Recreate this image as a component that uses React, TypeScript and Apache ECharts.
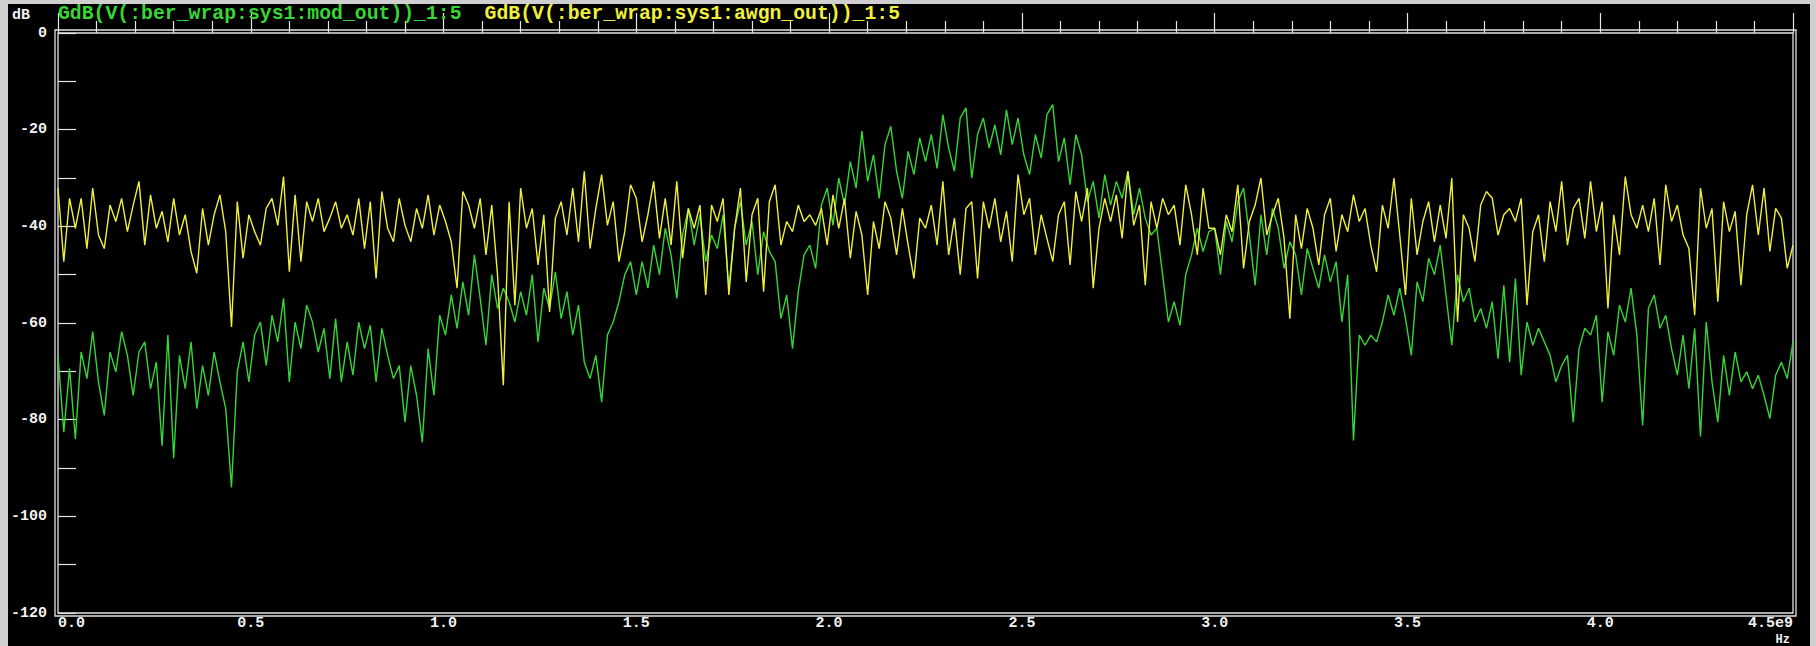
import React, { useEffect, useRef } from "react";
import * as echarts from "echarts";

// Frequency grid step (Hz) of the sampled spectrum
const STEP_HZ = 0.015e9;

const MOD_NAME = "GdB(V(:ber_wrap:sys1:mod_out))_1:5";
const AWGN_NAME = "GdB(V(:ber_wrap:sys1:awgn_out))_1:5";

// mod_out spectrum (dB), one value per STEP_HZ from 0 to 4.5 GHz
const modOut = [
  -66.7, -82.6, -69.4, -84, -66, -71.5, -61.8, -72.2, -79.1, -66,
  -70.1, -61.8, -66.7, -75, -66, -63.9, -73.6, -68.1, -85.4, -62.5,
  -88, -66.7, -73.6, -63.9, -77.7, -68.8, -75, -66, -72.2, -77.7,
  -94, -70.1, -63.9, -72.2, -62.5, -59.8, -68.8, -58.4, -63.9, -54.9,
  -72.2, -59.8, -65.3, -56.3, -59.8, -66, -61.1, -71.5, -59.1, -72.2,
  -63.9, -70.8, -59.8, -65.3, -60.5, -72.2, -61.1, -66.7, -71.5, -68.8,
  -80.5, -68.8, -75, -84.7, -65.3, -75, -58.4, -62.5, -54.2, -61.1,
  -51.5, -58.4, -45.9, -54.9, -64.6, -50, -57, -52.8, -55.6, -59.8,
  -53.5, -58.4, -50, -63.9, -52.8, -57, -49.4, -59.1, -53.5, -62.5,
  -56.3, -68.1, -71.5, -66.7, -76.4, -62.5, -59.8, -55.6, -50, -47.3,
  -54.2, -47.3, -52.8, -43.9, -50, -40.4, -45.9, -54.9, -41.8, -36.3,
  -43.9, -37.6, -47.3, -41.8, -44.6, -37.6, -52.8, -40.4, -34.9, -43.9,
  -39, -50, -41.1, -45.2, -47.3, -59.1, -54.2, -65.3, -53.5, -45.9,
  -43.9, -48.7, -35.6, -32.1, -39.8, -30, -35.6, -26.6, -32.1, -20.3,
  -30.7, -25.2, -34.2, -23.1, -19.3, -28.6, -34.2, -24.5, -29.3, -21.7,
  -26.6, -21, -28, -16.9, -23.8, -28.6, -17.6, -15.5, -30, -21,
  -17.6, -23.8, -19, -25.2, -15.9, -23.1, -17.6, -25.2, -29.3, -21,
  -25.9, -16.9, -14.8, -26.6, -21.7, -31.4, -21, -25.2, -34.9, -30.7,
  -38.3, -29.3, -35.6, -30.7, -34.2, -28.6, -37.6, -32.1, -38.3, -41.8,
  -40.4, -50, -59.8, -55.6, -60.5, -50, -45.9, -40.4, -45.2, -41.1,
  -40.4, -50, -39, -43.2, -34.9, -32.1, -41.8, -52.2, -37.6, -45.9,
  -36.3, -40.4, -48.7, -43.2, -45.9, -54.2, -44.6, -48.7, -52.8, -45.9,
  -51.5, -47.3, -59.8, -50, -84.3, -62.5, -64.6, -62.5, -63.9, -59.8,
  -54.2, -58.4, -52.8, -59.1, -66.7, -51.5, -55.6, -46.6, -50, -43.9,
  -54.2, -64.6, -50, -55.6, -52.8, -59.8, -57, -61.1, -55.6, -67.4,
  -52.2, -68.1, -50.8, -70.8, -59.8, -64.6, -61.1, -63.9, -66.7, -72.2,
  -68.8, -66.7, -80.5, -65.3, -61.1, -62.5, -58.4, -76.4, -61.8, -66.7,
  -56.3, -59.8, -52.8, -62.5, -81.2, -57, -54.2, -61.1, -58.4, -65.3,
  -70.8, -62.5, -73.6, -61.1, -83.5, -59.8, -72.2, -80.5, -66.7, -75,
  -66, -72.2, -70.1, -73.6, -70.8, -75, -79.8, -70.8, -68.1, -71.5,
  -63.9,
];

// awgn_out spectrum (dB), same grid
const awgnOut = [
  -32.1, -47.3, -34.2, -40.4, -34.2, -44.6, -32.1, -41.8, -44.6, -35.6,
  -39, -34.2, -41.1, -35.6, -30.7, -43.9, -33.5, -40.4, -36.9, -43.2,
  -34.2, -41.8, -37.6, -45.2, -49.7, -36.3, -43.9, -37.6, -33.5, -41.1,
  -60.8, -34.9, -46.6, -37.6, -41.1, -43.9, -36.3, -34.2, -39.8, -29.7,
  -49.4, -33.5, -47.3, -34.9, -39, -34.2, -41.1, -38.3, -34.9, -40.4,
  -37.6, -41.8, -34.2, -44.6, -34.9, -50.8, -32.8, -40.4, -43.2, -34.2,
  -39.8, -43.2, -36.3, -40.4, -33.5, -41.8, -35.6, -39, -43.2, -52.8,
  -32.8, -35.6, -40.4, -34.2, -45.9, -35.6, -50.1, -72.9, -34.9, -56.3,
  -32.1, -40.4, -36.3, -48, -37.6, -57.7, -38.3, -34.9, -41.8, -32.1,
  -43.2, -28.6, -44.6, -36.3, -29.3, -39.8, -34.9, -47.3, -41.1, -31.4,
  -34.2, -43.2, -37.6, -30.7, -42.5, -34.2, -43.9, -30.7, -46.6, -36.3,
  -40.4, -35.6, -54.2, -35.6, -39, -34.2, -54.2, -40.4, -32.1, -51.5,
  -37.6, -34.2, -53.5, -34.9, -31.4, -43.9, -39, -41.1, -35.6, -39,
  -37.6, -39.8, -36.3, -43.9, -33.5, -40.4, -34.2, -46.6, -36.9, -41.8,
  -54.2, -39, -44.6, -34.9, -38.3, -45.9, -36.3, -43.9, -50.8, -38.3,
  -40.4, -35.6, -43.9, -30.7, -45.9, -38.3, -50, -36.3, -34.9, -50.8,
  -34.9, -40.4, -34.2, -43.2, -36.9, -47.3, -29.3, -37.6, -34.2, -45.9,
  -37.6, -42.5, -47.3, -37.6, -34.9, -48, -32.8, -39, -32.1, -52.8,
  -40.4, -34.2, -39, -33.5, -42.5, -28.6, -39.8, -35.6, -52.2, -34.9,
  -40.4, -34.2, -37.6, -35.6, -43.9, -31.4, -37.6, -45.9, -32.1, -40.4,
  -40.4, -45.9, -37.6, -41.1, -31.4, -48.7, -39, -35.6, -30, -41.8,
  -37.6, -34.2, -42.5, -59.1, -37.6, -44.6, -36.3, -40.4, -48, -37.6,
  -34.2, -45.2, -37.6, -41.1, -33.5, -39, -36.3, -43.9, -49.4, -35.6,
  -40.4, -30, -41.8, -54.2, -34.2, -45.9, -39, -34.9, -43.2, -35.6,
  -42.5, -30, -59.8, -37.6, -40.4, -47.3, -35.6, -32.8, -34.2, -41.8,
  -37.6, -36.3, -39, -34.2, -56.3, -41.1, -37.6, -47.3, -34.9, -41.1,
  -30.7, -43.9, -36.3, -34.2, -42.5, -30.7, -41.1, -34.9, -57, -37.6,
  -45.9, -29.7, -37.6, -40.4, -35.6, -41.1, -34.2, -48, -31.4, -39,
  -35.6, -41.8, -44.6, -58.4, -32.1, -40.4, -36.3, -55.6, -34.9, -41.1,
  -36.9, -52.2, -37.6, -31.4, -41.8, -32.1, -45.2, -36.3, -38.3, -48.7,
  -43.9,
];

const X_MIN = 0;
const X_MAX = 4.5e9;
const X_INTERVAL = 0.5e9;
const Y_MIN = -120;
const Y_MAX = 0;
const Y_INTERVAL = 10;

const FONT = '"Liberation Mono", "DejaVu Sans Mono", monospace';
const GREEN = "#36d636";
const YELLOW = "#f0f03c";
const WHITE = "#f2f2f2";
const FRAME = "#e4e4e4";

export default function App() {
  const ref = useRef<HTMLDivElement>(null);

  useEffect(() => {
    if (!ref.current) return;
    const chart = echarts.init(ref.current, undefined, { renderer: "svg" });
    const toPairs = (arr: number[]) => arr.map((v, i) => [i * STEP_HZ, v]);

    chart.setOption({
      animation: false,
      backgroundColor: "transparent",
      textStyle: { fontFamily: FONT, fontWeight: "bold" },
      legend: {
        left: 53,
        top: 4,
        padding: 0,
        itemWidth: 0,
        itemHeight: 14,
        itemGap: 18,
        icon: "rect",
        selectedMode: false,
        itemStyle: { opacity: 0 },
        textStyle: { fontSize: 19.8, fontFamily: FONT, fontWeight: "bold" },
        data: [
          { name: MOD_NAME, textStyle: { color: GREEN } },
          { name: AWGN_NAME, textStyle: { color: YELLOW } },
        ],
      },
      grid: {
        left: 58,
        top: 33,
        width: 1735,
        height: 580,
        show: true,
        borderColor: FRAME,
        borderWidth: 1.3,
        backgroundColor: "transparent",
      },
      xAxis: {
        type: "value",
        min: X_MIN,
        max: X_MAX,
        interval: X_INTERVAL,
        axisLine: { show: false },
        splitLine: { show: false },
        axisTick: { show: true, inside: true, length: 20, lineStyle: { color: FRAME, width: 1.2 } },
        minorTick: { show: true, splitNumber: 5, length: 12, lineStyle: { color: FRAME, width: 1.2 } },
        axisLabel: {
          color: WHITE,
          fontSize: 15,
          lineHeight: 15,
          fontFamily: FONT,
          fontWeight: "bold",
          margin: 3,
          alignMinLabel: "left",
          alignMaxLabel: "right",
          formatter: (v: number) =>
            Math.abs(v - X_MAX) < 1 ? "4.5e9" : (v / 1e9).toFixed(1),
        },
      },
      yAxis: {
        type: "value",
        min: Y_MIN,
        max: Y_MAX,
        interval: Y_INTERVAL,
        axisLine: { show: false },
        splitLine: { show: false },
        axisTick: { show: true, inside: true, length: 18, lineStyle: { color: FRAME, width: 1.2 } },
        axisLabel: {
          color: WHITE,
          fontSize: 15,
          fontFamily: FONT,
          fontWeight: "bold",
          margin: 11,
          formatter: (v: number) => (Math.round(v) % 20 === 0 ? String(Math.round(v)) : ""),
        },
      },
      graphic: [
        {
          type: "rect",
          silent: true,
          shape: { x: 55, y: 30, width: 1741, height: 586 },
          style: { fill: "none", stroke: FRAME, lineWidth: 1.3 },
        },
        {
          type: "text",
          silent: true,
          x: 12,
          y: 15,
          style: {
            text: "dB",
            fill: WHITE,
            fontSize: 15,
            fontWeight: "bold",
            fontFamily: FONT,
            align: "left",
            verticalAlign: "middle",
            textAlign: "left",
            textVerticalAlign: "middle",
          },
        },
        {
          type: "text",
          silent: true,
          x: 1790,
          y: 640,
          style: {
            text: "Hz",
            fill: WHITE,
            fontSize: 12,
            fontWeight: "bold",
            fontFamily: FONT,
            align: "right",
            verticalAlign: "middle",
            textAlign: "right",
            textVerticalAlign: "middle",
          },
        },
      ],
      series: [
        {
          name: MOD_NAME,
          type: "line",
          data: toPairs(modOut),
          showSymbol: false,
          symbol: "none",
          lineStyle: { color: GREEN, width: 1.4 },
          itemStyle: { color: GREEN },
        },
        {
          name: AWGN_NAME,
          type: "line",
          data: toPairs(awgnOut),
          showSymbol: false,
          symbol: "none",
          lineStyle: { color: YELLOW, width: 1.4 },
          itemStyle: { color: YELLOW },
        },
      ],
    });

    return () => chart.dispose();
  }, []);

  return (
    <div
      style={{
        position: "fixed",
        left: 0,
        top: 0,
        width: 1816,
        height: 646,
        background: "#cfcfcf",
        overflow: "hidden",
      }}
    >
      <div
        style={{
          position: "absolute",
          left: 8,
          top: 4,
          right: 6,
          bottom: 0,
          background: "#000000",
        }}
      />
      <div
        ref={ref}
        style={{ position: "absolute", left: 0, top: 0, width: 1816, height: 646 }}
      />
    </div>
  );
}
